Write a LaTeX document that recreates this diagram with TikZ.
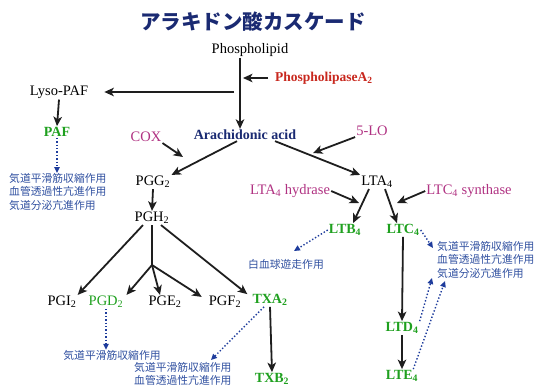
\documentclass[tikz,border=0pt]{standalone}
\usepackage{fontspec}
\setmainfont{Liberation Serif}
\newfontfamily\cjk{Noto Sans CJK JP}
\usetikzlibrary{arrows.meta}
\definecolor{navy}{HTML}{1A2A72}
\definecolor{enzred}{HTML}{C8281E}
\definecolor{enzmag}{HTML}{B03282}
\definecolor{grn}{HTML}{1FA01F}
\definecolor{jpblue}{HTML}{3050A0}
\definecolor{dotblue}{HTML}{1E3C9C}
\definecolor{arrblack}{HTML}{1E1E1E}
\tikzset{
  lbl/.style={inner sep=1pt, font=\fontsize{14.5}{17}\selectfont},
  bgreen/.style={lbl, text=grn, font=\fontsize{14}{17}\selectfont\bfseries},
  enz/.style={lbl, text=enzmag},
  jp/.style={inner sep=0pt, align=left, text=jpblue, font=\fontsize{10.8}{13.6}\selectfont\cjk},
  arr/.style={draw=arrblack, line width=1.8pt, -{Stealth[length=9.5pt,width=8.5pt,inset=2.5pt]}},
  plainline/.style={draw=arrblack, line width=1.8pt},
  dotarr/.style={draw=dotblue, line width=1.4pt, dotted, -{Triangle[length=6pt,width=5.5pt]}},
}
\begin{document}
\begin{tikzpicture}[x=1pt,y=-1pt]
\useasboundingbox (0,0) rectangle (537,389);
% title
\node[text=navy, font=\fontsize{20.5}{24}\selectfont\cjk\bfseries] (title) at (253,22) {アラキドン酸カスケード};
% top
\node[lbl] (phos) at (250,50) {Phospholipid};
\node[lbl, anchor=west, text=enzred, font=\fontsize{13.5}{16}\selectfont\bfseries] (pla) at (274,78) {PhospholipaseA\textsubscript{2}};
\node[lbl] (lyso) at (59,92) {Lyso-PAF};
\node[bgreen] (paf) at (57,132) {PAF};
\node[jp, anchor=north west] (jpl) at (9,173) {気道平滑筋収縮作用\\血管透過性亢進作用\\気道分泌亢進作用};
\node[lbl, text=navy, font=\fontsize{14}{17}\selectfont\bfseries] (arach) at (245,135) {Arachidonic acid};
\node[enz] (cox) at (146,137) {COX};
\node[enz] (lo) at (372,131) {5-LO};
% PG branch
\node[lbl] (pgg) at (153,182) {PGG\textsubscript{2}};
\node[lbl] (pgh) at (152,218) {PGH\textsubscript{2}};
\node[lbl] (pgi) at (62,302) {PGI\textsubscript{2}};
\node[lbl, text=grn] (pgd) at (106,302) {PGD\textsubscript{2}};
\node[lbl] (pge) at (165,302) {PGE\textsubscript{2}};
\node[lbl] (pgf) at (225,302) {PGF\textsubscript{2}};
\node[bgreen] (txa) at (270,300) {TXA\textsubscript{2}};
\node[bgreen] (txb) at (272,379) {TXB\textsubscript{2}};
\node[jp] (jppgd) at (112,355) {気道平滑筋収縮作用};
\node[jp, anchor=north west, font=\fontsize{10.8}{12.8}\selectfont\cjk] (jptx) at (134,362) {気道平滑筋収縮作用\\血管透過性亢進作用};
% LT branch
\node[lbl] (lta) at (377,182) {LTA\textsubscript{4}};
\node[enz] (hyd) at (290,191) {LTA\textsubscript{4} hydrase};
\node[enz] (syn) at (469,191) {LTC\textsubscript{4} synthase};
\node[bgreen] (ltb) at (345,230) {LTB\textsubscript{4}};
\node[bgreen] (ltc) at (403,230) {LTC\textsubscript{4}};
\node[jp] (jpwbc) at (286,264) {白血球遊走作用};
\node[jp, anchor=north west] (jpr) at (437,241) {気道平滑筋収縮作用\\血管透過性亢進作用\\気道分泌亢進作用};
\node[bgreen] (ltd) at (402,328) {LTD\textsubscript{4}};
\node[bgreen] (lte) at (402,376) {LTE\textsubscript{4}};
% coordinates
\coordinate (j) at (240,92);
\coordinate (plaTip) at (243,78);
\coordinate (coxTip) at (183,157);
\coordinate (loTip) at (313,153);
\coordinate (hydTip) at (359,203);
\coordinate (synTip) at (397,203);
\coordinate (pgj) at (152,265);
\coordinate (ltbTip) at (294,251);
\coordinate (ltcTip) at (433,248);
\coordinate (ltdTip) at (432,278);
\coordinate (lteTip) at (445,281);
\coordinate (txTip) at (211,360);
% connectors
\draw[arr] (phos.south -| j) -- (arach.north -| j);
\draw[arr, shorten >=15pt] ([xshift=-6pt]j) -- (lyso.east);
\draw[arr] (pla.west) ++(-6,0) -- (plaTip);
\draw[arr] (lyso.south) -- (paf.north);
\draw[dotarr] (paf.south) -- (paf.south |- jpl.north);
\draw[arr] (cox.south east) -- (coxTip);
\draw[arr] ([xshift=-8pt]arach.south) -- (pgg.north east);
\draw[arr] ([xshift=30pt]arach.south) -- (lta.north west);
\draw[arr] (lo.south west) -- (loTip);
\draw[arr] (pgg.south) -- (pgh.north);
\draw[arr] ([xshift=-9pt]pgh.south) -- (pgi.north east);
\draw[plainline] (pgh.south) -- (pgj);
\draw[arr] (pgj) -- ([xshift=2pt]pgd.north east);
\draw[arr] (pgj) -- ([xshift=-5pt]pge.north);
\draw[arr] (pgj) -- ([xshift=-6pt,yshift=-2pt]pgf.north west);
\draw[arr] ([xshift=9pt]pgh.south) -- ([xshift=-4pt,yshift=-1pt]txa.north west);
\draw[dotarr] (pgd.south) -- (pgd.south |- jppgd.north);
\draw[dotarr] ([xshift=-6pt]txa.south) -- (txTip);
\draw[arr] (txa.south) -- (txb.north);
\draw[arr] (lta.south) ++(-8,0) -- ([xshift=8pt]ltb.north);
\draw[arr] (lta.south) ++(8,0) -- ([xshift=-6pt]ltc.north);
\draw[arr] (hyd.east) -- (hydTip);
\draw[arr] (syn.west) -- (synTip);
\draw[dotarr] (ltb.west) -- (ltbTip);
\draw[dotarr] (ltc.east) -- (ltcTip);
\draw[arr] (ltc.south) -- (ltd.north);
\draw[arr] (ltd.south) -- (lte.north);
\draw[dotarr] (ltd.north east) -- (ltdTip);
\draw[dotarr] ([xshift=-6pt]lte.north east) -- (lteTip);
\end{tikzpicture}
\end{document}
